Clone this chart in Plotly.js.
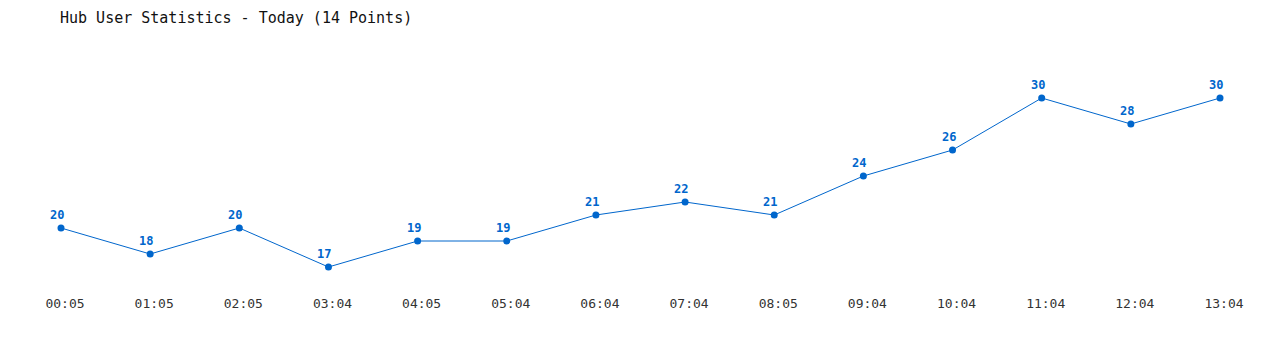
<!DOCTYPE html>
<html><head><meta charset="utf-8">
<script src="https://cdn.plot.ly/plotly-3.0.1.min.js"></script>
<style>html,body{margin:0;padding:0;background:#fff}#c{width:1280px;height:350px}</style>
</head><body><div id="c"></div>
<script>
const categories = ["00:05","01:05","02:05","03:04","04:05","05:04","06:04","07:04","08:05","09:04","10:04","11:04","12:04","13:04"];
const users = [20,18,20,17,19,19,21,22,21,24,26,30,28,30];
const titleText = "Hub User Statistics - Today (14 Points)";
const blue = "#0066cc";
const idx = categories.map((_, i) => i);
const labels = idx.map(i => ({
  x: i, y: users[i], xref: "x", yref: "y", text: String(users[i]), showarrow: false,
  xanchor: "center", yanchor: "bottom", xshift: -4, yshift: 4,
  font: {family: "DejaVu Sans Mono", size: 12, color: blue, weight: "bold"}
}));
Plotly.newPlot("c", [{
  x: idx, y: users, type: "scatter", mode: "lines+markers",
  line: {color: blue, width: 1}, marker: {color: blue, size: 7},
  cliponaxis: false, hoverinfo: "none"
}], {
  width: 1280, height: 350, paper_bgcolor: "#fff", plot_bgcolor: "#fff",
  margin: {l: 61, r: 60, t: 60, b: 60},
  showlegend: false,
  annotations: labels,
  title: {text: titleText, x: 60/1280, xref: "container", xanchor: "left",
          y: 1 - 18/350, yref: "container", yanchor: "middle",
          font: {family: "DejaVu Sans Mono", size: 15, color: "#111"}},
  xaxis: {range: [0, 13], tickvals: idx, ticktext: categories, showgrid: false, zeroline: false,
          showline: false, ticks: "", ticklabelstandoff: 4, ticklabelshift: 4,
          tickfont: {family: "DejaVu Sans Mono", size: 13, color: "#333"}},
  yaxis: {range: [15.231, 32.923], showgrid: false, zeroline: false, showline: false,
          showticklabels: false, ticks: ""}
}, {staticPlot: true});
</script></body></html>
